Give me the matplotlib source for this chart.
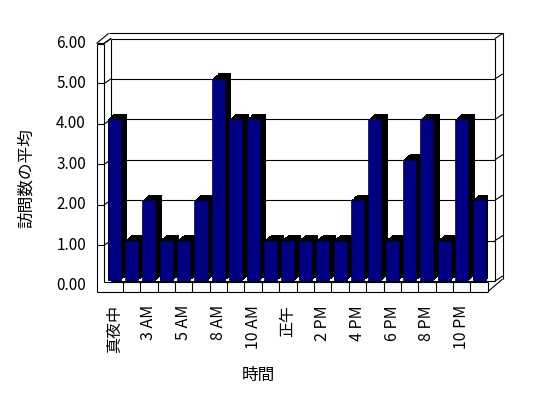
import matplotlib
matplotlib.use("Agg")
import matplotlib.pyplot as plt
import matplotlib.patheffects as pe
from matplotlib.transforms import Affine2D, blended_transform_factory
import numpy as np

plt.rcParams['font.family'] = ['Noto Sans CJK JP', 'DejaVu Sans']

# === Données ===
hours = ["真夜中", "1 AM", "3 AM", "4 AM", "5 AM", "7 AM", "8 AM", "9 AM",
         "10 AM", "11 AM", "正午", "1 PM", "2 PM", "3 PM", "4 PM", "5 PM",
         "6 PM", "7 PM", "8 PM", "9 PM", "10 PM", "11 PM"]
visits = [4, 1, 2, 1, 1, 2, 5, 4, 4, 1, 1, 1, 1, 1, 2, 4, 1, 3, 4, 1, 4, 2]
y_ticks = [0, 1, 2, 3, 4, 5, 6]
x_title = "時間"
y_title = "訪問数の平均"

W, H = 548, 398
fig = plt.figure(figsize=(W / 100, H / 100), dpi=100)
# axes = plan avant des barres (en pixels: x 105.4..487.8, y 38.5..281)
ax = fig.add_axes([105.4 / W, (H - 281) / H, 382.4 / W, 242.5 / H])
ax.set_xlim(-0.5, len(visits) - 0.5)
ax.set_ylim(0, 6)
ax.axis('off')

# transformations : pixels (origine en haut) / mixtes
T = Affine2D().scale(1, -1).translate(0, H)
px_val = blended_transform_factory(T, ax.transData)      # x pixel, y valeur
cat_px = blended_transform_factory(ax.transData, T)      # x catégorie, y pixel


def shift(dy):
    return Affine2D().translate(0, dy)


lk = dict(color='black', lw=0.8, clip_on=False, solid_capstyle='butt')
seg = dict(arrowstyle='-', color='black', lw=0.8, shrinkA=0, shrinkB=0)

# --- mur du fond, graduations, mur gauche ---
for v in y_ticks:
    ax.plot([111, 495], [v, v], transform=px_val, zorder=1, **lk)
    # diagonale à droite (épaisseur du mur)
    ax.annotate("", xy=(502.7, v), xycoords=px_val + shift(5),
                xytext=(495, v), textcoords=px_val,
                arrowprops=seg, zorder=1)
    if v > 0:
        # graduation du mur gauche : horizontale + diagonale vers le fond
        ax.plot([96.5, 104.3], [v, v], transform=px_val + shift(-4.5), zorder=1, **lk)
        ax.annotate("", xy=(111, v), xycoords=px_val,
                    xytext=(104.3, v), textcoords=px_val + shift(-4.5),
                    arrowprops=seg, zorder=1)

# cadre des murs et du sol (pixels)
frame = [
    ([111, 111], [38.5, 281]),          # bord gauche du mur du fond
    ([495, 495], [38.5, 281]),          # bord droit avant
    ([502.7, 502.7], [33.3, 279]),      # bord droit arrière
    ([108.7, 502.7], [33.3, 33.3]),     # arête supérieure arrière
    ([96.5, 96.5], [43.5, 291.5]),      # mur gauche, face avant ext.
    ([104.3, 104.3], [43.5, 282]),      # mur gauche, face avant int.
    ([96.5, 104.3], [43.5, 43.5]),
    ([96.5, 108.7], [43.5, 33.3]),
    ([104.3, 111], [43.5, 38.5]),
    ([104.3, 488], [282, 282]),         # sol, arête avant haute
    ([96.5, 488], [291.5, 291.5]),      # sol, arête avant basse
    ([488, 488], [282, 291.5]),
    ([488, 502.7], [291.5, 279]),
]
for xs, ys in frame:
    ax.plot(xs, ys, transform=T, zorder=1, **lk)

# séparations de catégories sur le sol
for k in range(len(visits) - 1):
    ax.plot([k + 0.5, k + 0.5], [282, 291.5], transform=cat_px, zorder=1, **lk)

# --- barres 3D (extrusion par ombres successives) ---
n = 10
dx_pt, dy_pt = 6.5 * 0.72, 5.5 * 0.72
effects = [pe.SimplePatchShadow(offset=(dx_pt * i / n, dy_pt * i / n),
                                shadow_rgbFace='black', alpha=1.0)
           for i in range(1, n + 1)] + [pe.Normal()]
x = np.arange(len(visits))
bars = ax.bar(x, visits, width=0.75, color='#000080', edgecolor='#000040',
              linewidth=0.5, zorder=3)
for b in bars:
    b.set_path_effects(effects)

# --- textes ---
for v in y_ticks:
    ax.text(86, v, f"{v:.2f}", transform=px_val + shift(-4.5),
            ha='right', va='center', fontsize=11)
for k in range(0, len(hours), 2):
    ax.text(k, 305, hours[k], transform=cat_px, rotation=90,
            ha='center', va='top', fontsize=11.5)

fig.text(26 / W, (H - 178.5) / H, y_title, rotation=90, ha='center', va='center', fontsize=12)
fig.text(258 / W, (H - 375.5) / H, x_title, ha='center', va='center', fontsize=12)

fig.savefig("out.png", dpi=100)
